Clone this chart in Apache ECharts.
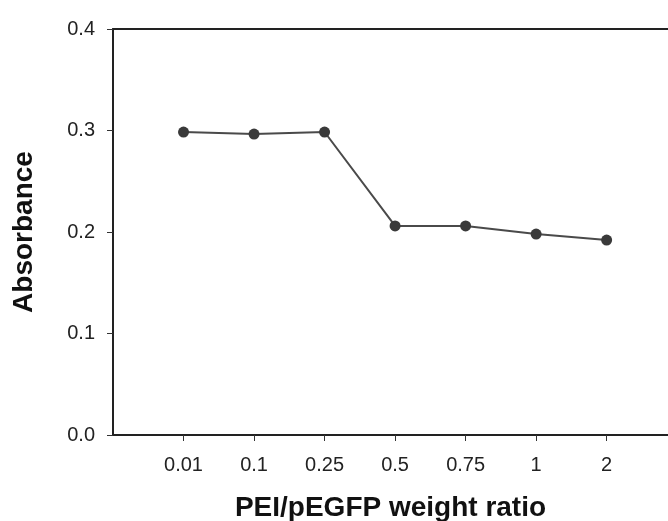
<!DOCTYPE html>
<html>
<head>
<meta charset="utf-8">
<script src="https://cdn.jsdelivr.net/npm/echarts@6/dist/echarts.min.js"></script>
<style>html,body{margin:0;padding:0;background:#fff;}#c{width:668px;height:521px;}</style>
</head>
<body>
<div id="c"></div>
<script>
var categories = ['0.01', '0.1', '0.25', '0.5', '0.75', '1', '2'];
var absorbance = [0.2985, 0.2965, 0.2985, 0.206, 0.206, 0.198, 0.192];
var yTicks = [0, 0.1, 0.2, 0.3, 0.4];

var positions = categories.map(function (c, i) { return i + 1; });
var seriesData = absorbance.map(function (v, i) { return [positions[i], v]; });

var chart = echarts.init(document.getElementById('c'), null, {renderer: 'canvas'});
var font = '"Liberation Sans", Arial, sans-serif';
chart.setOption({
  animation: false,
  backgroundColor: '#fff',
  grid: {left: 113, top: 29, right: 0, bottom: 86, show: false, containLabel: false, outerBoundsMode: 'none'},
  xAxis: [{
    type: 'value', min: 0, max: 7.87, interval: 1,
    name: 'PEI/pEGFP weight ratio', nameLocation: 'middle', nameGap: 59,
    nameTextStyle: {fontFamily: font, fontSize: 28, fontWeight: 'bold', color: '#111'},
    axisLine: {show: true, lineStyle: {color: '#222', width: 2}},
    axisTick: {show: true, length: 6, lineStyle: {color: '#333', width: 1}, customValues: positions},
    axisLabel: {fontFamily: font, fontSize: 20, color: '#222', margin: 20, customValues: positions,
      formatter: function (v) { var i = Math.round(v) - 1; return categories[i] !== undefined ? categories[i] : ''; }},
    splitLine: {show: false}
  }, {
    type: 'value', position: 'top', min: 0, max: 1,
    axisLine: {show: true, onZero: false, lineStyle: {color: '#222', width: 2}},
    axisTick: {show: false}, axisLabel: {show: false}, splitLine: {show: false}
  }],
  yAxis: {
    type: 'value', min: 0, max: 0.4, interval: 0.1,
    name: 'Absorbance', nameLocation: 'middle', nameGap: 75,
    nameTextStyle: {fontFamily: font, fontSize: 28, fontWeight: 'bold', color: '#111'},
    axisLine: {show: true, lineStyle: {color: '#222', width: 2}},
    axisTick: {show: true, length: 6, lineStyle: {color: '#333', width: 1}},
    axisLabel: {fontFamily: font, fontSize: 20, color: '#222', margin: 18,
      customValues: yTicks,
      formatter: function (v) { return v.toFixed(1); }},
    splitLine: {show: false}
  },
  series: [{
    type: 'line',
    xAxisIndex: 0,
    data: seriesData,
    symbol: 'circle', symbolSize: 11,
    lineStyle: {color: '#4a4a4a', width: 2},
    itemStyle: {color: '#3a3a3a', borderWidth: 0}
  }]
});
</script>
</body>
</html>
